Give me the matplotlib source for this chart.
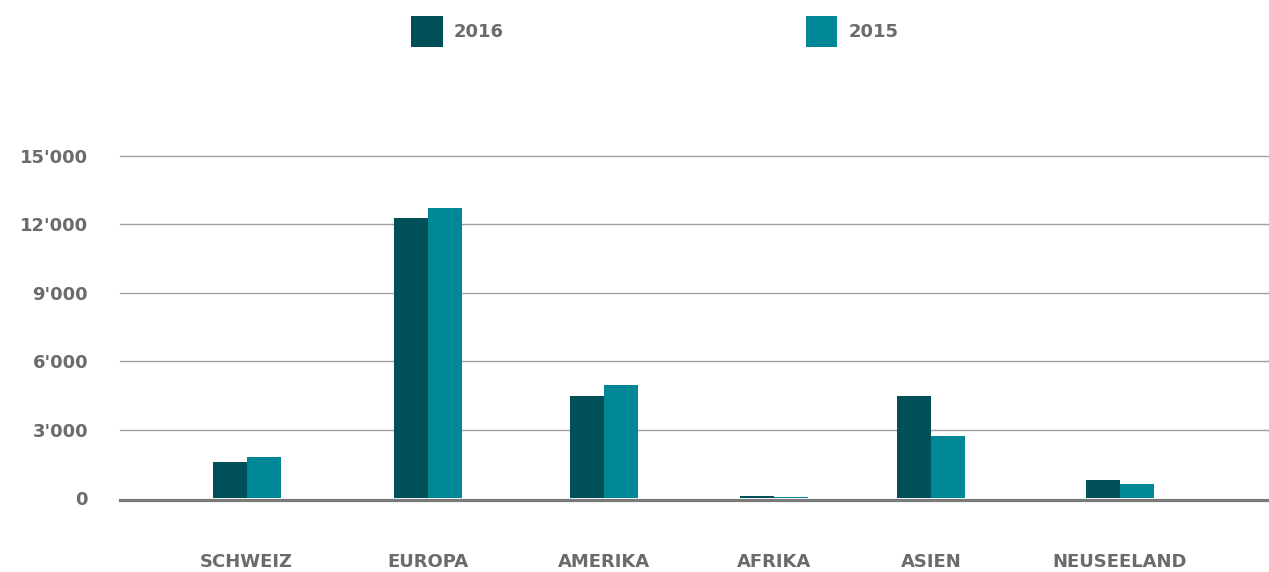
import matplotlib
matplotlib.use("Agg")
import matplotlib.pyplot as plt
from matplotlib.patches import Patch
from matplotlib.ticker import FuncFormatter

categories = ["SCHWEIZ", "EUROPA", "AMERIKA", "AFRIKA", "ASIEN", "NEUSEELAND"]
values_2016 = [1600, 12300, 4480, 70, 4480, 790]
values_2015 = [1800, 12700, 4950, 60, 2720, 610]
series_names = ["2016", "2015"]
y_ticks = [0, 3000, 6000, 9000, 12000, 15000]

# layout (group centres, in data units, as spaced in the reference)
positions = [0.0, 1.04, 2.045, 3.02, 3.92, 5.0]

C2016 = "#00505a"
C2015 = "#008896"
TXT = "#6b6b6b"

plt.rcParams['font.family'] = ['DejaVu Sans']

W, H = 1269, 572
fig = plt.figure(figsize=(W / 100, H / 100), dpi=100)
ax = fig.add_axes([120 / W, (H - 498) / H, 1 - 120 / W, (498 - 156) / H])

bw = 0.195
xs16 = [p - bw / 2 for p in positions]
xs15 = [p + bw / 2 for p in positions]
ax.bar(xs16, values_2016, width=bw, color=C2016, zorder=3, linewidth=0)
ax.bar(xs15, values_2015, width=bw, color=C2015, zorder=3, linewidth=0)

ax.set_ylim(0, 15000)
ax.set_xlim(-0.725, 5.855)
ax.set_yticks(y_ticks)
ax.yaxis.set_major_formatter(FuncFormatter(lambda v, p: f"{int(v):,}".replace(",", "'")))
ax.set_xticks(positions)
ax.set_xticklabels(categories)

for v in y_ticks[1:]:
    ax.axhline(v, color="#a0a0a0", lw=1.0, zorder=1, clip_on=False)

for name, s in ax.spines.items():
    s.set_visible(name == 'bottom')
ax.spines['bottom'].set_position(('outward', 1.6))
ax.spines['bottom'].set_linewidth(2.3)
ax.spines['bottom'].set_color("#7a7a7a")
ax.tick_params(axis='both', length=0)
ax.tick_params(axis='y', pad=23, labelsize=13, labelcolor=TXT)
ax.tick_params(axis='x', pad=38, labelsize=13, labelcolor=TXT)
for t in ax.get_yticklabels() + ax.get_xticklabels():
    t.set_fontweight('bold')

handles = [Patch(facecolor=C2016, edgecolor='none'), Patch(facecolor=C2015, edgecolor='none')]
leg = fig.legend(handles, series_names, loc='center left',
                 bbox_to_anchor=(411 / W, 1 - 31.5 / H), ncol=2, frameon=False,
                 borderpad=0, borderaxespad=0, handlelength=1.75, handleheight=2.2,
                 handletextpad=0.6, columnspacing=16.75,
                 prop={'size': 13, 'weight': 'bold'})
for t in leg.get_texts():
    t.set_color(TXT)

fig.savefig("out.png", dpi=100)
